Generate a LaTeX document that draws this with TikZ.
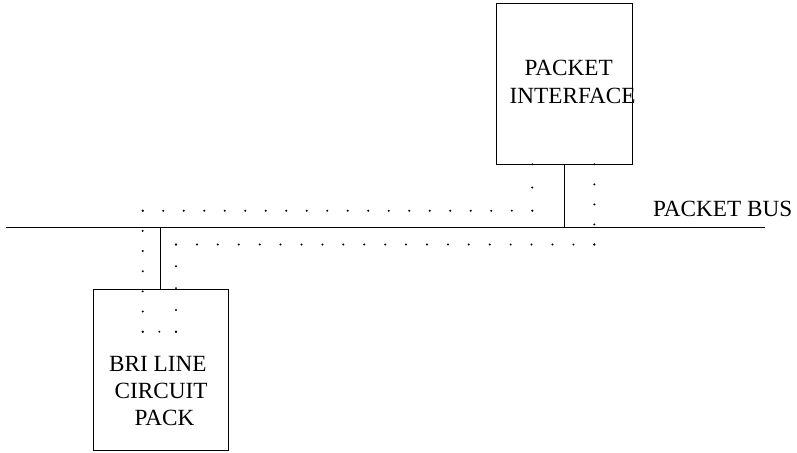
\documentclass[tikz,border=0pt]{standalone}
\usepackage{fontspec}
\setmainfont{Liberation Serif}
\usetikzlibrary{calc}

\tikzset{
  unitbox/.style={draw, line width=1pt, inner sep=0pt},
  wire/.style={line width=1pt},
  label/.style={inner sep=0pt, anchor=base west, font=\fontsize{23.2}{27}\selectfont},
}

% place #3 evenly spaced dots from #1 to #2 (both ends included)
\newcommand{\dotrun}[3]{%
  \foreach \k in {0,...,\numexpr#3-1\relax}{%
    \fill ($#1!{\k/(#3-1)}!#2$) circle (1.1pt);
  }%
}

\begin{document}
\begin{tikzpicture}[x=1pt, y=-1pt]
  \useasboundingbox (0,0) rectangle (797,452);

  % boxes
  \node[unitbox, minimum width=136pt, minimum height=160pt] (pi) at (564,84) {};
  \node[unitbox, minimum width=135pt, minimum height=161pt] (bri) at (160.5,369.5) {};

  % packet bus
  \coordinate (busL) at (6,227);
  \coordinate (busR) at (765,227);
  \draw[wire] (busL) -- (busR);

  % stubs onto the bus
  \draw[wire] (pi.south) -- (pi.south |- busL);
  \draw[wire] (bri.north |- busL) -- (bri.north);

  % labels
  \node[label] (pbus) at (653,216.7) {PACKET BUS};
  \node[label] (piA) at (524.5,75.7) {PACKET};
  \node[label] (piB) at (509.5,103.3) {INTERFACE};
  \node[label] (briA) at (109,371) {BRI LINE};
  \node[label] (briB) at (114.5,398.3) {CIRCUIT};
  \node[label] (briC) at (134.5,425.5) {PACK};

  % dotted signal paths
  \coordinate (u1) at (532.3,164.3);
  \coordinate (u2) at (532.3,210.7);
  \coordinate (u3) at (142.7,210.7);
  \coordinate (u4) at (142.7,331.7);
  \coordinate (u5) at (176,331.7);
  \dotrun{(u1)}{(u2)}{3}
  \dotrun{(u2)}{(u3)}{20}
  \dotrun{(u3)}{(u4)}{7}
  \dotrun{(u4)}{(u5)}{3}

  \coordinate (l1) at (594.3,164.3);
  \coordinate (l2) at (594.3,244.5);
  \coordinate (l3) at (176,244.5);
  \coordinate (l4) at (176,331.7);
  \dotrun{(l1)}{(l2)}{5}
  \dotrun{(l2)}{(l3)}{21}
  \dotrun{(l3)}{(l4)}{5}
\end{tikzpicture}
\end{document}
